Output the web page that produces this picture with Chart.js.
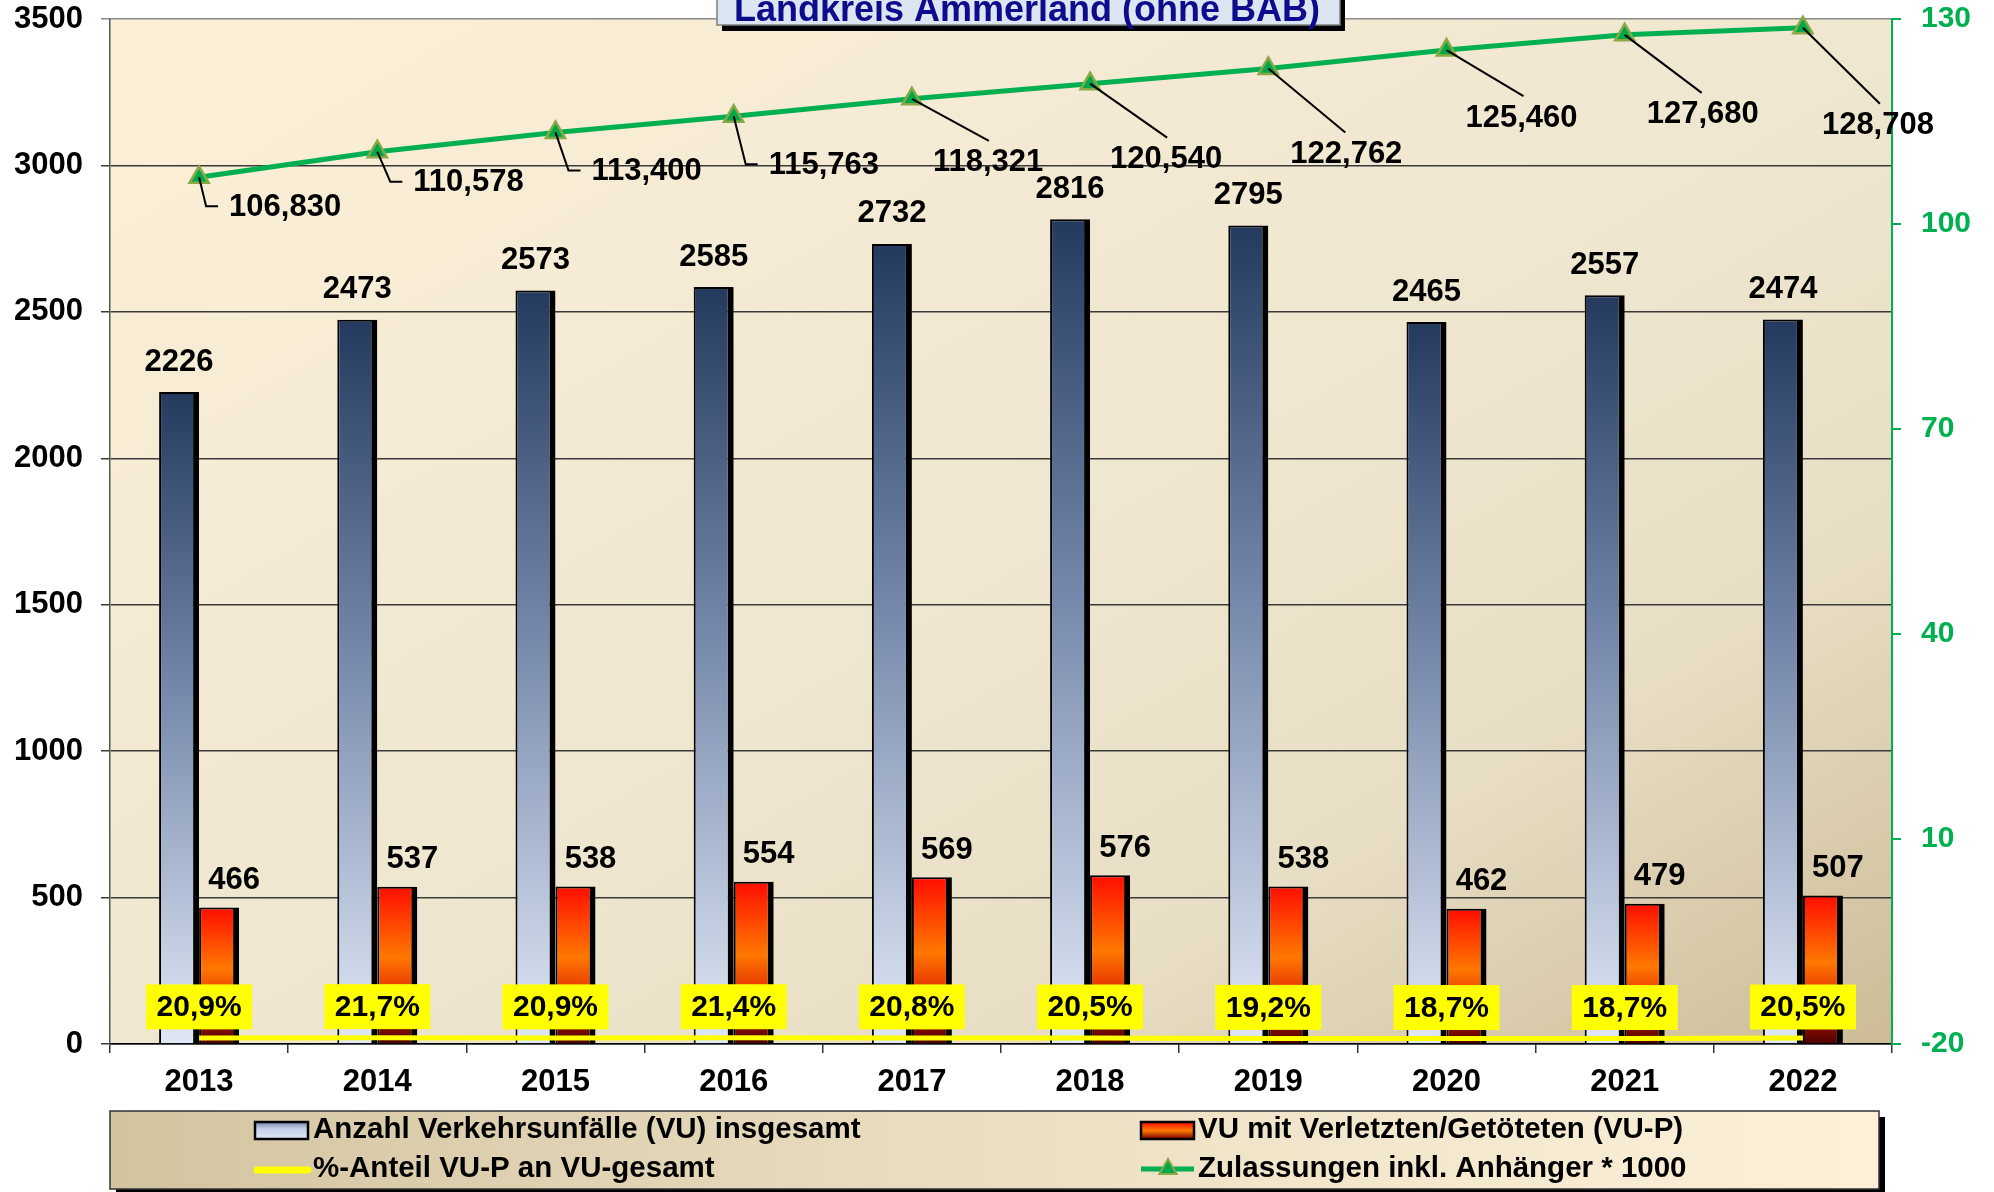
<!DOCTYPE html>
<html lang="de">
<head>
<meta charset="utf-8">
<title>Verkehrsunfälle Landkreis Ammerland</title>
<script src="https://cdn.jsdelivr.net/npm/chart.js@4.4.1/dist/chart.umd.min.js"></script>
<style>
    html, body { margin: 0; padding: 0; background: #fff; }
    #wrap { width: 1994px; height: 1192px; }
</style>
</head>
<body>
<div id="wrap"><canvas id="unfallChart" width="1994" height="1192"></canvas></div>
<script>
// --- DATA ---
const years = ['2013', '2014', '2015', '2016', '2017', '2018', '2019', '2020', '2021', '2022'];
const vuTotal = [2226, 2473, 2573, 2585, 2732, 2816, 2795, 2465, 2557, 2474];
const vuP = [466, 537, 538, 554, 569, 576, 538, 462, 479, 507];
const vuPShare = [20.9, 21.7, 20.9, 21.4, 20.8, 20.5, 19.2, 18.7, 18.7, 20.5];
const registrations = [106.830, 110.578, 113.400, 115.763, 118.321, 120.540, 122.762, 125.460, 127.680, 128.708];

const leftAxis = [0, 3500, 500];    // min, max, step
const rightAxis = [-20, 130, 30];

const titleText = 'Landkreis Ammerland (ohne BAB)';

// label placement for the registration values (dx, dy from the point)
const regLabelOffsets = [[30, 30], [36, 31], [36, 39], [35, 49], [21, 64], [20, 76], [22, 86], [19, 68], [22, 80], [19, 98]];
const regLeaderStyle = ['elbow', 'elbow', 'elbow', 'elbow', 'diag', 'diag', 'diag', 'diag', 'diag', 'diag'];

const FONT = "'Liberation Sans', Arial, Helvetica, sans-serif";
const GREEN = '#00b050';
const f = (size) => `bold ${size}px ${FONT}`;
const de = (v, d) => v.toFixed(d).replace('.', ',');

// --- GRADIENTS ---
function barGradient(stops, fallback) {
    return (c) => {
        const chart = c.chart;
        if (!chart.chartArea || c.type !== 'data') return fallback;
        const y = chart.scales.y;
        const top = y.getPixelForValue(c.raw);
        const base = y.getPixelForValue(0);
        const g = chart.ctx.createLinearGradient(0, top, 0, base);
        stops.forEach(s => g.addColorStop(s[0], s[1]));
        return g;
    };
}
const blueStops = [[0, '#233a5e'], [0.45, '#7487aa'], [1, '#e0e8f6']];
const redStops = [[0, '#ff0d00'], [0.45, '#ff7800'], [0.72, '#e02200'], [1, '#4a0000']];

// vertical axes: fixed width, no extra room for half labels
function fixAxis(width) {
    return (s) => {
        s.width = width;
        s.paddingTop = 0;
        s.paddingBottom = 0;
    };
}

// --- DECORATION PLUGIN ---
const decoPlugin = {
    id: 'deco',
    beforeDraw(chart) {
        const { ctx, chartArea: a } = chart;
        ctx.save();
        ctx.fillStyle = '#fff';
        ctx.fillRect(0, 0, chart.width, chart.height);
        const w = a.right - a.left, h = a.bottom - a.top;
        const k = 2 * w * h / (w * w + h * h);
        const g = ctx.createLinearGradient(a.left, a.top, a.left + h * k, a.top + w * k);
        g.addColorStop(0, '#fcefd7');
        g.addColorStop(0.5, '#f0e7d1');
        g.addColorStop(0.75, '#e8dec5');
        g.addColorStop(1, '#cdbb96');
        ctx.fillStyle = g;
        ctx.fillRect(a.left, a.top, w, h);
        ctx.restore();
    },
    afterDatasetsDraw(chart) {
        const ctx = chart.ctx;
        ctx.save();
        ctx.textBaseline = 'middle';
        ctx.textAlign = 'center';
        ctx.fillStyle = '#000';
        ctx.font = f(31);

        // bar values
        chart.getDatasetMeta(0).data.forEach((bar, i) => {
            ctx.fillText(String(vuTotal[i]), bar.x, bar.y - 30);
        });
        chart.getDatasetMeta(1).data.forEach((bar, i) => {
            ctx.fillText(String(vuP[i]), bar.x + 15, bar.y - 27);
        });

        // share boxes
        ctx.font = f(30);
        chart.getDatasetMeta(2).data.forEach((pt, i) => {
            const cy = pt.y - 31;
            ctx.fillStyle = '#ffff00';
            ctx.fillRect(pt.x - 53, cy - 22.5, 106, 45);
            ctx.fillStyle = '#000';
            ctx.fillText(de(vuPShare[i], 1) + '%', pt.x, cy + 1);
        });

        // registration labels with leader lines
        ctx.font = f(31);
        ctx.textAlign = 'left';
        ctx.strokeStyle = '#000';
        ctx.lineWidth = 2;
        chart.getDatasetMeta(3).data.forEach((pt, i) => {
            const [dx, dy] = regLabelOffsets[i];
            ctx.beginPath();
            ctx.moveTo(pt.x, pt.y);
            if (regLeaderStyle[i] === 'elbow') {
                ctx.lineTo(pt.x + dx - 23, pt.y + dy - 1);
                ctx.lineTo(pt.x + dx - 11, pt.y + dy - 1);
            } else {
                ctx.lineTo(pt.x + 77, pt.y + dy - 22);
            }
            ctx.stroke();
            ctx.fillText(de(registrations[i], 3), pt.x + dx, pt.y + dy);
        });
        ctx.restore();
    },
    afterDraw(chart) {
        const ctx = chart.ctx;
        ctx.save();

        // --- TITLE BOX ---
        ctx.fillStyle = '#000';
        ctx.fillRect(722, -10, 623, 41);
        ctx.fillStyle = '#dce6f2';
        ctx.fillRect(717, -10, 623, 35);
        ctx.strokeStyle = '#7f7f7f';
        ctx.lineWidth = 1.5;
        ctx.strokeRect(717, -10, 623, 35);
        ctx.fillStyle = '#0c0c8c';
        ctx.font = f(36);
        ctx.textAlign = 'center';
        ctx.textBaseline = 'alphabetic';
        ctx.fillText(titleText, 1027, 21);

        // --- LEGEND ---
        const lx = 110, ly = 1111, lw = 1769, lh = 78;
        ctx.fillStyle = '#000';
        ctx.fillRect(lx + 6, ly + 6, lw, lh);
        const g = ctx.createLinearGradient(lx, 0, lx + lw, 0);
        g.addColorStop(0, '#d3c4a0');
        g.addColorStop(0.5, '#ebdfc3');
        g.addColorStop(1, '#fcf0d9');
        ctx.fillStyle = g;
        ctx.fillRect(lx, ly, lw, lh);
        ctx.strokeStyle = '#333';
        ctx.lineWidth = 1.5;
        ctx.strokeRect(lx, ly, lw, lh);

        const ds = chart.data.datasets;
        const row1 = 1130, row2 = 1169;
        const col1 = 255, col2 = 1141;

        // swatch boxes
        const swatch = (x, y, stops) => {
            const sg = ctx.createLinearGradient(0, y - 8, 0, y + 9);
            stops.forEach(s => sg.addColorStop(s[0], s[1]));
            ctx.fillStyle = sg;
            ctx.fillRect(x, y - 8, 53, 17);
            ctx.strokeStyle = '#000';
            ctx.lineWidth = 2.5;
            ctx.strokeRect(x, y - 8, 53, 17);
        };
        swatch(col1, row1, [[0, '#7487aa'], [0.4, '#c3d0e8'], [1, '#e0e8f6']]);
        swatch(col2, row1, [[0, '#ff0d00'], [0.5, '#ff7800'], [1, '#7a0000']]);

        // line swatches
        ctx.lineCap = 'round';
        ctx.strokeStyle = ds[2].borderColor;
        ctx.lineWidth = 7;
        ctx.beginPath(); ctx.moveTo(col1 + 2, row2 + 1); ctx.lineTo(col1 + 53, row2 + 1); ctx.stroke();
        ctx.lineCap = 'butt';
        ctx.strokeStyle = ds[3].borderColor;
        ctx.lineWidth = 5;
        ctx.beginPath(); ctx.moveTo(col2, row2); ctx.lineTo(col2 + 53, row2); ctx.stroke();
        const tx = col2 + 27, r = 10;
        ctx.beginPath();
        ctx.moveTo(tx, row2 - r);
        ctx.lineTo(tx + r * 0.866, row2 + r / 2);
        ctx.lineTo(tx - r * 0.866, row2 + r / 2);
        ctx.closePath();
        ctx.fillStyle = ds[3].pointBackgroundColor;
        ctx.fill();
        ctx.strokeStyle = ds[3].pointBorderColor;
        ctx.lineWidth = 2;
        ctx.stroke();

        ctx.fillStyle = '#000';
        ctx.font = f(29.5);
        ctx.textAlign = 'left';
        ctx.textBaseline = 'middle';
        ctx.fillText(ds[0].label, col1 + 58, row1);
        ctx.fillText(ds[1].label, col2 + 57, row1);
        ctx.fillText(ds[2].label, col1 + 58, row2);
        ctx.fillText(ds[3].label, col2 + 57, row2);
        ctx.restore();
    }
};

// --- CHART ---
const ctxChart = document.getElementById('unfallChart');
new Chart(ctxChart, {
    type: 'bar',
    data: {
        labels: years,
        datasets: [
            {
                label: 'Anzahl Verkehrsunfälle (VU) insgesamt',
                data: vuTotal,
                yAxisID: 'y',
                order: 3,
                backgroundColor: barGradient(blueStops, '#7487aa'),
                borderColor: '#000',
                borderWidth: { top: 2, left: 2, right: 6, bottom: 0 },
                categoryPercentage: 0.449,
                barPercentage: 1
            },
            {
                label: 'VU mit Verletzten/Getöteten (VU-P)',
                data: vuP,
                yAxisID: 'y',
                order: 3,
                backgroundColor: barGradient(redStops, '#ff7800'),
                borderColor: '#000',
                borderWidth: { top: 2, left: 2, right: 6, bottom: 0 },
                categoryPercentage: 0.449,
                barPercentage: 1
            },
            {
                type: 'line',
                label: '%-Anteil VU-P an VU-gesamt',
                data: vuPShare,
                yAxisID: 'y',
                order: 2,
                borderColor: '#ffff00',
                borderWidth: 5,
                pointRadius: 0,
                clip: false
            },
            {
                type: 'line',
                label: 'Zulassungen inkl. Anhänger * 1000',
                data: registrations,
                yAxisID: 'y1',
                order: 1,
                borderColor: GREEN,
                borderWidth: 5,
                pointStyle: 'triangle',
                pointRadius: 11,
                pointBackgroundColor: '#00a84a',
                pointBorderColor: '#8aa846',
                pointBorderWidth: 2.5,
                clip: false
            }
        ]
    },
    options: {
        responsive: false,
        animation: false,
        layout: { padding: { top: 19, left: 0, right: 0, bottom: 0 } },
        plugins: {
            legend: { display: false },
            tooltip: { enabled: false },
            title: { display: false }
        },
        scales: {
            x: {
                afterFit: (s) => { s.height = 148; },
                grid: { display: true, drawOnChartArea: false, drawTicks: true, tickLength: 9, color: '#333', lineWidth: 1.5 },
                border: { color: '#000', width: 1.5 },
                ticks: { color: '#000', font: { family: FONT, size: 31, weight: 'bold' }, padding: 11 }
            },
            y: {
                position: 'left',
                min: leftAxis[0],
                max: leftAxis[1],
                afterFit: fixAxis(110),
                grid: {
                    color: (c) => c.tick && c.tick.value === leftAxis[1] ? '#8a8a8a' : '#3a3a3a',
                    lineWidth: 1.5,
                    tickLength: 9
                },
                border: { color: '#555', width: 1.5 },
                ticks: {
                    stepSize: leftAxis[2],
                    color: '#000',
                    font: { family: FONT, size: 31, weight: 'bold' },
                    padding: 18,
                    callback: (v) => String(v)
                }
            },
            y1: {
                position: 'right',
                min: rightAxis[0],
                max: rightAxis[1],
                afterFit: fixAxis(102),
                grid: { drawOnChartArea: false, color: GREEN, lineWidth: 2, tickLength: 9 },
                border: { color: GREEN, width: 2 },
                ticks: {
                    stepSize: rightAxis[2],
                    color: GREEN,
                    font: { family: FONT, size: 30, weight: 'bold' },
                    padding: 20,
                    callback: (v) => String(v)
                }
            }
        }
    },
    plugins: [decoPlugin]
});
</script>
</body>
</html>
